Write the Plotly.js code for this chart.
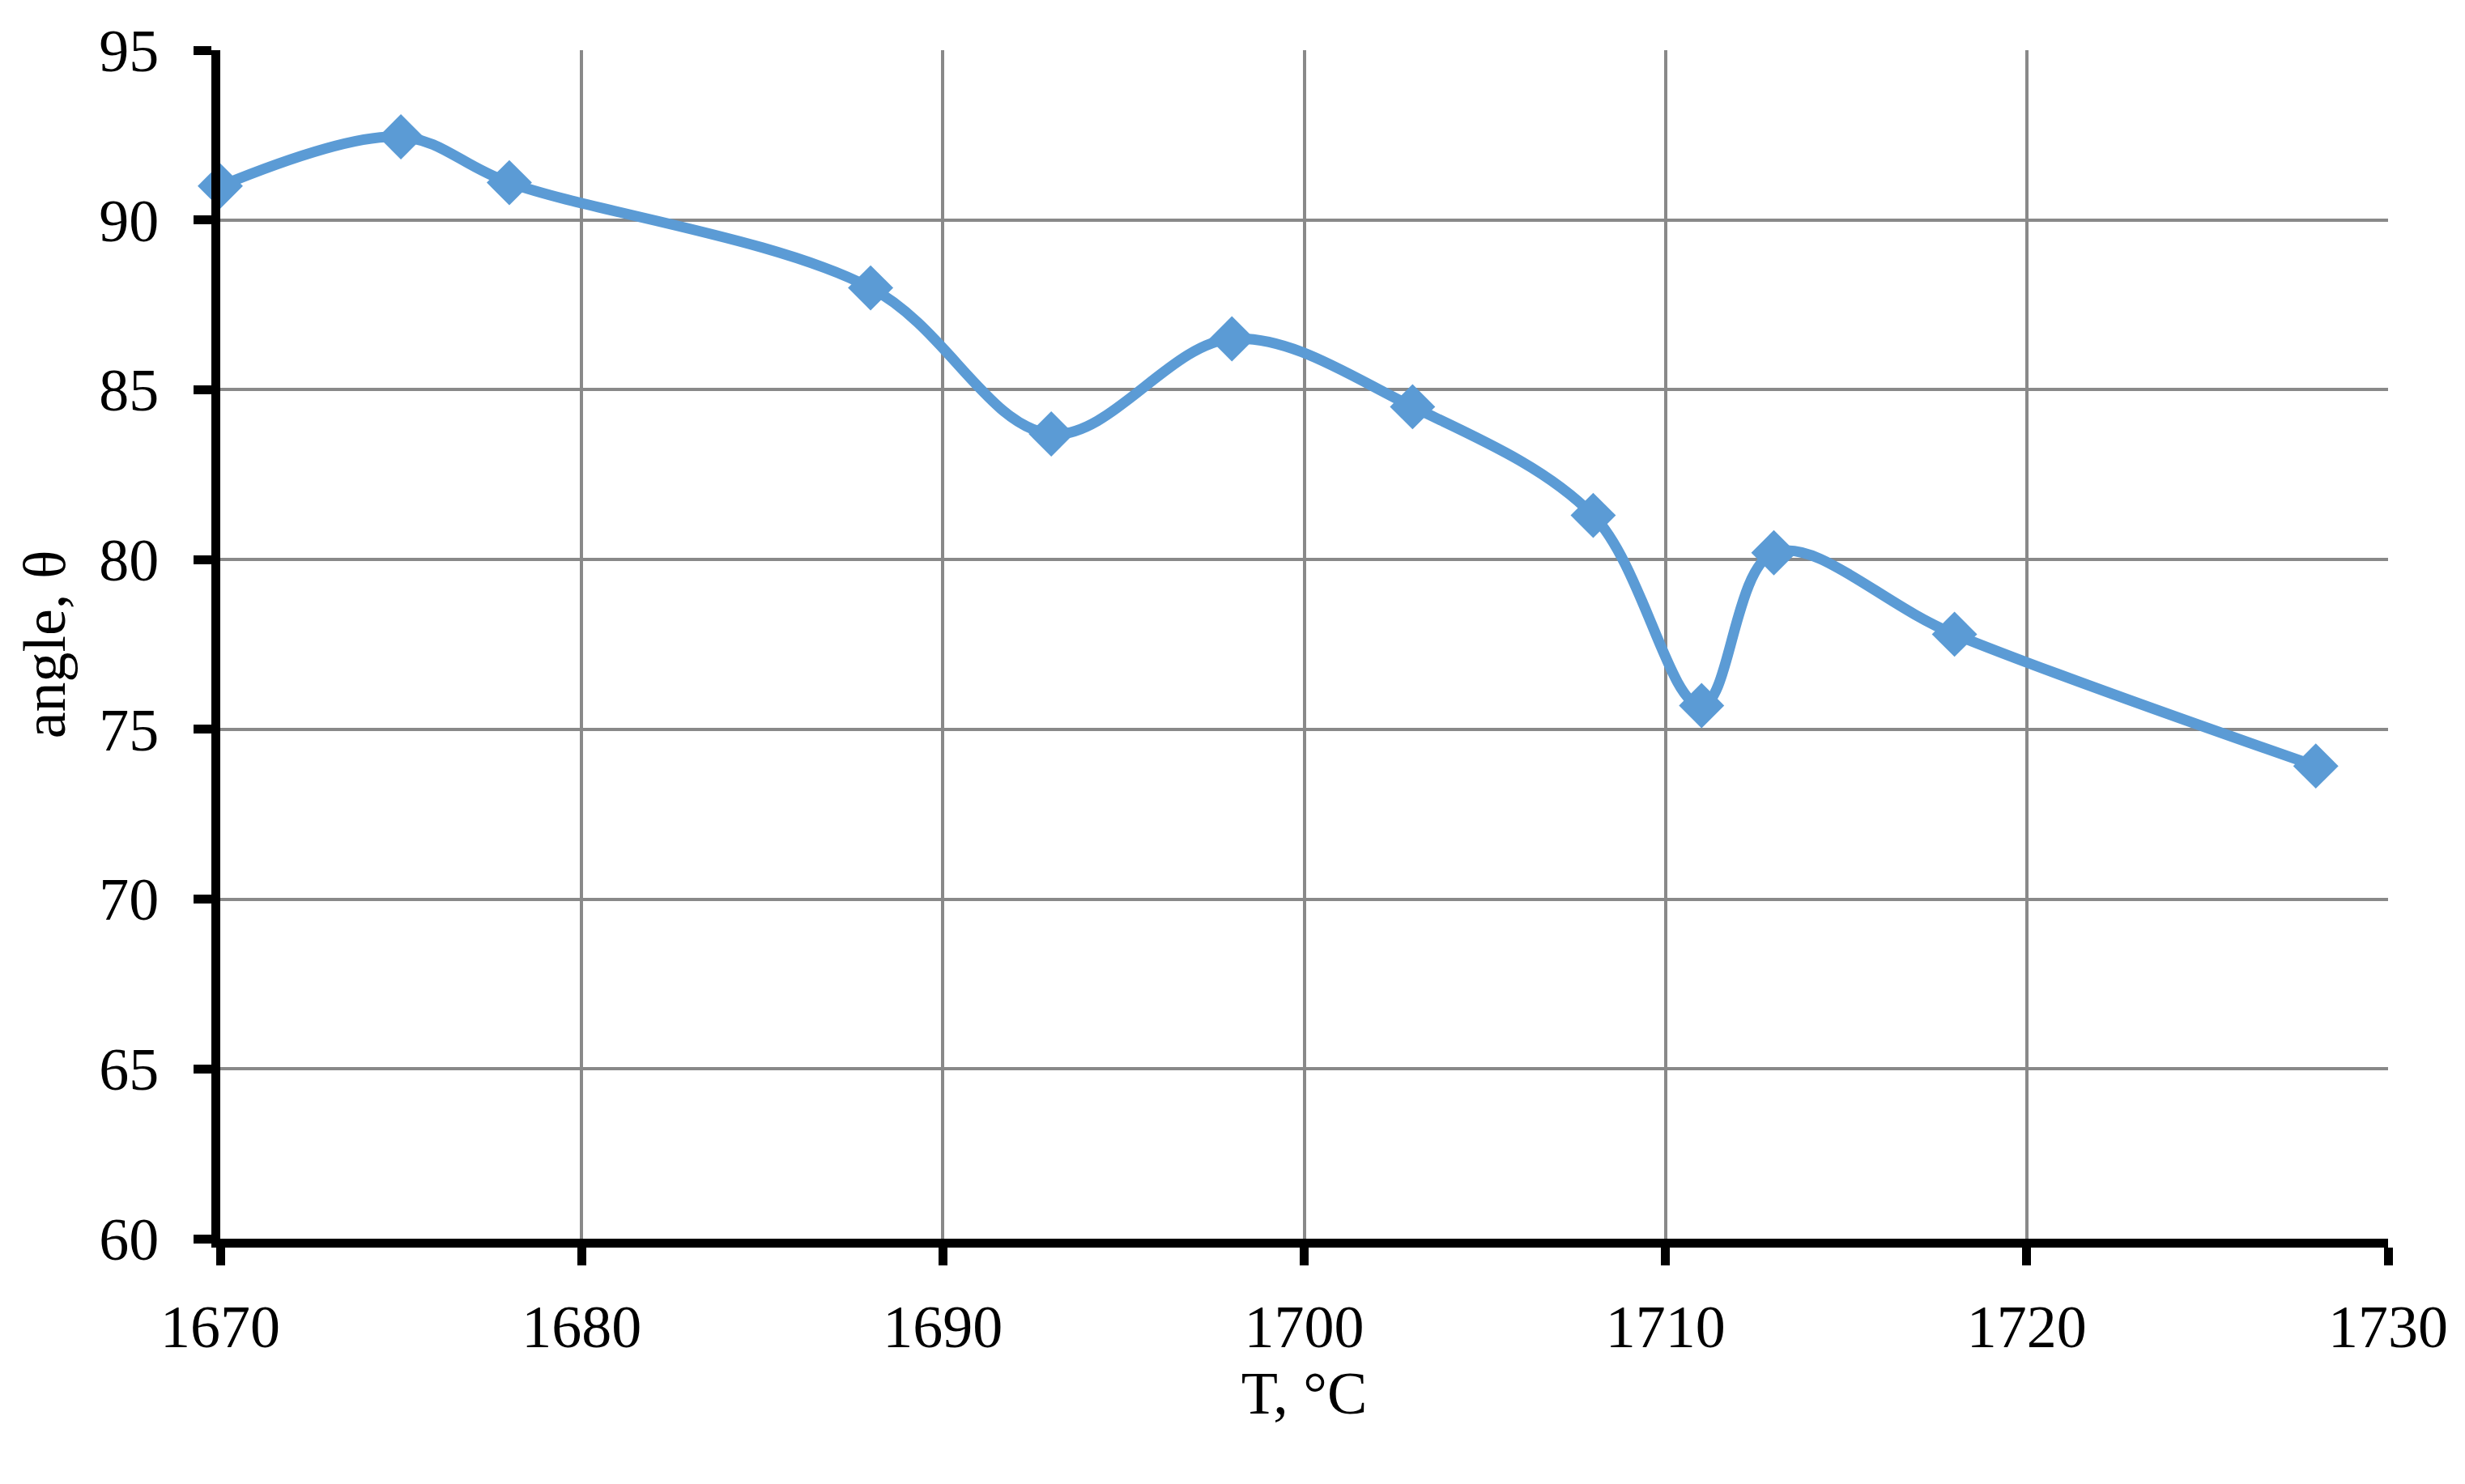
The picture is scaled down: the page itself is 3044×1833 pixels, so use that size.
<!DOCTYPE html>
<html>
<head>
<meta charset="utf-8">
<script src="https://cdn.plot.ly/plotly-3.0.1.min.js"></script>
<style>html,body{margin:0;padding:0;background:#fff;}</style>
</head>
<body>
<div id="chart" style="width:3044px;height:1833px;"></div>
<script>
const temperature = [1670, 1675, 1678, 1688, 1693, 1698, 1703, 1708, 1711, 1713, 1718, 1728];
const angle = [91.0, 92.45, 91.1, 88.0, 83.7, 86.5, 84.5, 81.3, 75.7, 80.2, 77.8, 73.92];
const xTicks = [1670, 1680, 1690, 1700, 1710, 1720, 1730];
const yTicks = [60, 65, 70, 75, 80, 85, 90, 95];
const xTitle = "T, °C";
const yTitle = "angle, θ";

const fontFam = "'Palatino Linotype', 'Book Antiqua', Palatino, 'Liberation Serif', serif";
const blue = "#5B9BD5";

const trace = {
  x: temperature,
  y: angle,
  type: "scatter",
  mode: "lines+markers",
  line: {color: blue, width: 13, shape: "spline", smoothing: 1},
  marker: {symbol: "diamond", size: 43, color: blue},
  cliponaxis: false,
  showlegend: false
};

const layout = {
  width: 3044,
  height: 1833,
  margin: {l: 272, r: 95, t: 62, b: 303},
  paper_bgcolor: "#ffffff",
  plot_bgcolor: "#ffffff",
  font: {family: fontFam, size: 74, color: "#000"},
  xaxis: {
    range: [1670, 1730],
    tickvals: xTicks,
    ticktext: xTicks.map(String),
    showgrid: true,
    gridcolor: "#898989",
    gridwidth: 4,
    zeroline: false,
    showline: true,
    linecolor: "#000",
    linewidth: 11,
    ticks: "outside",
    ticklen: 22,
    tickwidth: 11,
    tickcolor: "#000",
    ticklabelstandoff: 12,
    tickfont: {family: fontFam, size: 74, color: "#000"},
    title: {text: xTitle, font: {family: fontFam, size: 74, color: "#000"}, standoff: 2},
    automargin: false
  },
  yaxis: {
    range: [60, 95],
    tickvals: yTicks,
    ticktext: yTicks.map(String),
    showgrid: true,
    gridcolor: "#898989",
    gridwidth: 4,
    zeroline: false,
    showline: true,
    linecolor: "#000",
    linewidth: 11,
    ticks: "outside",
    ticklen: 22,
    tickwidth: 11,
    tickcolor: "#000",
    ticklabelstandoff: 28,
    tickfont: {family: fontFam, size: 74, color: "#000"},
    title: {text: yTitle, font: {family: fontFam, size: 74, color: "#000"}, standoff: 22},
    automargin: false
  }
};

Plotly.newPlot("chart", [trace], layout, {displayModeBar: false, staticPlot: true});
</script>
</body>
</html>
